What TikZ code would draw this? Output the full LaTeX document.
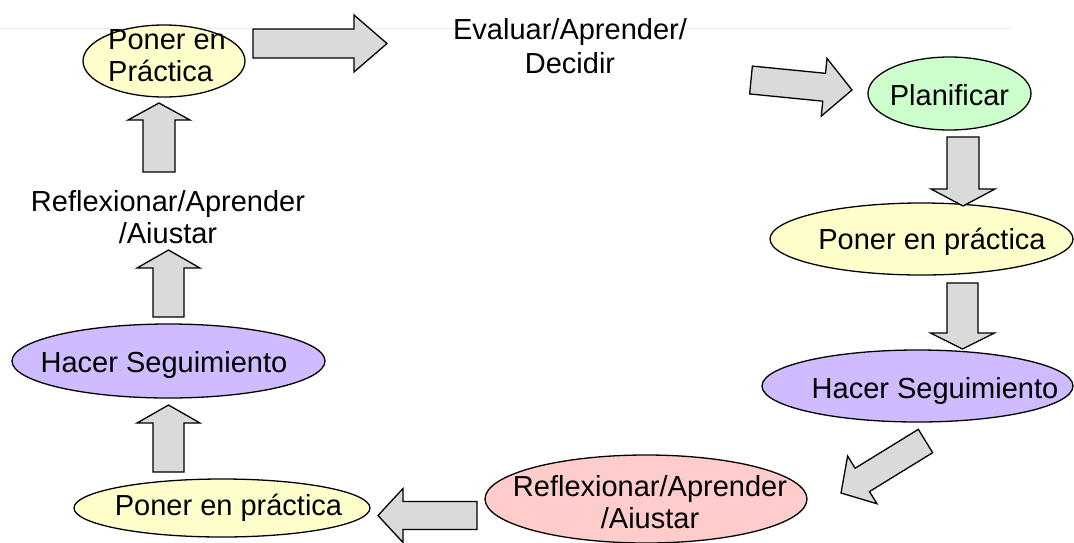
\documentclass[tikz,border=0pt]{standalone}
\usepackage{fontspec}
\setmainfont{Liberation Sans}
\usetikzlibrary{shapes.geometric,calc}
\definecolor{cyel}{HTML}{FFFFCC}
\definecolor{cgrn}{HTML}{CCFFCC}
\definecolor{cpur}{HTML}{CFBBFF}
\definecolor{cpnk}{HTML}{FFCCCC}
\definecolor{cgry}{HTML}{DADADA}
\definecolor{cfaint}{HTML}{EEEEEE}
% tail, tip, shaft half width, head half width, head length
\newcommand\blockarr[5]{%
  \coordinate (#2-b) at ($(#2)!#5!(#1)$);
  \draw[barrow] ($(#1)!#3!90:(#2)$) -- ($(#2-b)!#3!90:(#2)$) -- ($(#2-b)!#4!90:(#2)$) -- (#2)
    -- ($(#2-b)!#4!-90:(#2)$) -- ($(#2-b)!#3!-90:(#2)$) -- ($(#1)!#3!-90:(#2)$) -- cycle;}
\tikzset{
  ell/.style={ellipse, draw, line width=1.3pt, inner sep=0pt},
  txt/.style={font=\fontsize{29}{32}\selectfont, inner sep=0pt, align=center},
  barrow/.style={draw, fill=cgry, line width=1.3pt, line join=miter},
}
\begin{document}
\begin{tikzpicture}[x=1pt,y=-1pt]
\useasboundingbox (0,0) rectangle (1074,542);
% faint rule
\coordinate (fl1) at (0,28); \coordinate (fl2) at (1012,28);
\draw[cfaint, line width=1pt] (fl1) -- (fl2);

% ellipses
\node[ell, fill=cyel, minimum width=162pt, minimum height=72pt] (pp1) at (164,61) {};
\node[txt, align=left, anchor=west] (pp1t) at (108,55.6) {Poner en\\Práctica};

\node[txt] (ev) at (570,46.6) {Evaluar/Aprender/\\[2pt]Decidir};

\node[ell, fill=cgrn, minimum width=163pt, minimum height=73pt] (pl) at (949.5,93.5) {};
\node[txt, anchor=base] (plt) at (949.5,105) {Planificar};

\node[ell, fill=cyel, minimum width=303pt, minimum height=72pt] (pp2) at (921.5,239) {};
\node[txt, anchor=base] (pp2t) at (932,249) {Poner en práctica};

\node[ell, fill=cpur, minimum width=311pt, minimum height=72pt] (hs1) at (917.5,386) {};
\node[txt, anchor=base] (hs1t) at (935,398) {Hacer Seguimiento};

\node[ell, fill=cpnk, minimum width=322pt, minimum height=88pt] (ra1) at (646,499) {};
\node[txt] (ra1t) at (650,502.5) {Reflexionar/Aprender\\/Aiustar};

\node[ell, fill=cyel, minimum width=296pt, minimum height=58pt] (pp3) at (222,508) {};
\node[txt, anchor=base] (pp3t) at (228.5,515) {Poner en práctica};

\node[ell, fill=cpur, minimum width=313pt, minimum height=74pt] (hs2) at (168.5,361) {};
\node[txt, anchor=base] (hs2t) at (164,372) {Hacer Seguimiento};

\node[txt] (ra2) at (168,217.5) {Reflexionar/Aprender\\/Aiustar};

% block arrows
\coordinate (aAt) at (253,43.5);   \coordinate (aAh) at (387,43.5);
\blockarr{aAt}{aAh}{14.5pt}{28.5pt}{33pt}
\coordinate (aBt) at (751,80);   \coordinate (aBh) at (852,90);
\blockarr{aBt}{aBh}{14pt}{29pt}{28pt}
\coordinate (aCt) at (963,137);  \coordinate (aCh) at (963,206);
\blockarr{aCt}{aCh}{16pt}{32pt}{17pt}
\coordinate (aDt) at (962.5,283); \coordinate (aDh) at (962.5,349);
\blockarr{aDt}{aDh}{15.5pt}{32pt}{16pt}
\coordinate (aEt) at (925.5,441); \coordinate (aEh) at (841,493);
\blockarr{aEt}{aEh}{13.7pt}{28pt}{25pt}
\coordinate (aFt) at (477,515.5); \coordinate (aFh) at (378,515.5);
\blockarr{aFt}{aFh}{14pt}{27pt}{25pt}
\coordinate (aGt) at (168.5,472); \coordinate (aGh) at (168.5,405);
\blockarr{aGt}{aGh}{15.5pt}{31.5pt}{18pt}
\coordinate (aHt) at (168.5,317); \coordinate (aHh) at (168.5,250);
\blockarr{aHt}{aHh}{15.5pt}{31.5pt}{18pt}
\coordinate (aIt) at (159,172);  \coordinate (aIh) at (159,103);
\blockarr{aIt}{aIh}{16pt}{31pt}{17pt}
\end{tikzpicture}
\end{document}
